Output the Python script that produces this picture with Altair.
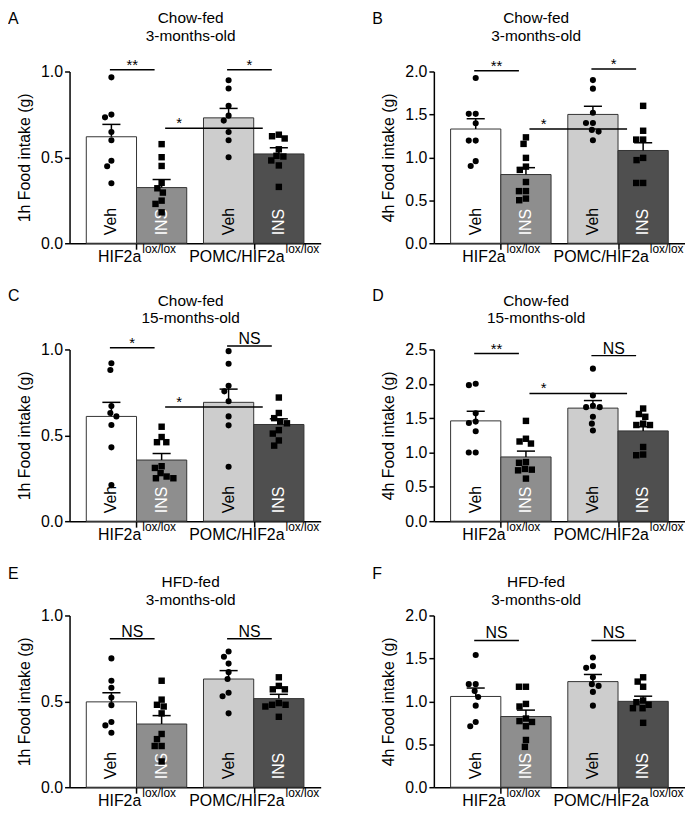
import altair as alt
import pandas as pd

FONT = "Liberation Sans, Arial, Helvetica, sans-serif"

# ------------------------------------------------------------------ data
TREATMENTS = ["Veh", "INS", "Veh", "INS"]
GENOTYPES = ["HIF2a", "POMC/HIF2a"]
GENOTYPE_SUP = "lox/lox"
PANEL_LETTERS = ["A", "B", "C", "D", "E", "F"]
DIETS = ["Chow-fed", "Chow-fed", "Chow-fed", "Chow-fed", "HFD-fed", "HFD-fed"]
AGES = ["3-months-old", "3-months-old", "15-months-old", "15-months-old",
        "3-months-old", "3-months-old"]
Y_TITLES = ["1h Food intake (g)", "4h Food intake (g)"] * 3
Y_MAX = [1.0, 2.0, 1.0, 2.5, 1.0, 2.0]

# bar order: HIF2a Veh, HIF2a INS, POMC/HIF2a Veh, POMC/HIF2a INS
A_means = [0.620, 0.324, 0.730, 0.520]
A_sem = [0.072, 0.047, 0.055, 0.036]
A_veh_wt = [0.966, 0.749, 0.733, 0.648, 0.600, 0.480, 0.448, 0.349]
A_ins_wt = [0.577, 0.501, 0.450, 0.352, 0.320, 0.295, 0.248, 0.229, 0.180]
A_veh_ko = [0.949, 0.901, 0.800, 0.743, 0.714, 0.648, 0.600, 0.501]
A_ins_ko = [0.632, 0.623, 0.610, 0.547, 0.509, 0.505, 0.482, 0.453, 0.328]
A_sig = [("**", 1.01), ("*", 1.01), ("*", 0.67)]

B_means = [1.330, 0.800, 1.500, 1.080]
B_sem = [0.120, 0.080, 0.095, 0.090]
B_veh_wt = [1.924, 1.507, 1.507, 1.397, 1.195, 1.195, 0.956, 0.900]
B_ins_wt = [1.233, 1.157, 0.994, 0.892, 0.854, 0.713, 0.607, 0.607, 0.520, 0.501]
B_veh_ko = [1.900, 1.800, 1.520, 1.400, 1.400, 1.320, 1.300, 1.200]
B_ins_ko = [1.600, 1.310, 1.207, 1.207, 0.994, 0.968, 0.702, 0.702]
B_sig = [("**", 2.01), ("*", 2.03), ("*", 1.33)]

C_means = [0.610, 0.356, 0.692, 0.563]
C_sem = [0.082, 0.038, 0.077, 0.033]
C_veh_wt = [0.920, 0.880, 0.670, 0.630, 0.610, 0.560, 0.430, 0.210]
C_ins_wt = [0.550, 0.490, 0.460, 0.460, 0.320, 0.310, 0.280, 0.260, 0.250, 0.250]
C_veh_ko = [0.990, 0.917, 0.788, 0.756, 0.698, 0.610, 0.558, 0.317]
C_ins_ko = [0.720, 0.630, 0.600, 0.580, 0.570, 0.530, 0.510, 0.470, 0.440]
C_sig = [("*", 1.01), ("NS", 1.02), ("*", 0.665)]

D_means = [1.460, 0.935, 1.646, 1.314]
D_sem = [0.140, 0.085, 0.110, 0.060]
D_veh_wt = [2.000, 1.980, 1.570, 1.450, 1.430, 1.310, 1.000, 1.000]
D_ins_wt = [1.460, 1.200, 1.160, 1.130, 0.860, 0.850, 0.760, 0.750, 0.740, 0.620]
D_veh_ko = [2.220, 1.830, 1.680, 1.660, 1.660, 1.520, 1.420, 1.320]
D_ins_ko = [1.640, 1.560, 1.520, 1.420, 1.400, 1.400, 1.080, 0.970, 0.960]
D_sig = [("**", 2.44), ("NS", 2.41), ("*", 1.86)]

E_means = [0.497, 0.368, 0.630, 0.516]
E_sem = [0.053, 0.049, 0.049, 0.025]
E_veh_wt = [0.750, 0.620, 0.579, 0.522, 0.478, 0.380, 0.360, 0.317]
E_ins_wt = [0.620, 0.510, 0.480, 0.470, 0.430, 0.310, 0.280, 0.240, 0.240, 0.150]
E_veh_ko = [0.790, 0.760, 0.720, 0.670, 0.630, 0.550, 0.530, 0.430]
E_ins_ko = [0.640, 0.590, 0.570, 0.570, 0.490, 0.480, 0.480, 0.470, 0.410]
E_sig = [("NS", 0.865), ("NS", 0.865)]

F_means = [1.057, 0.823, 1.230, 1.000]
F_sem = [0.098, 0.075, 0.083, 0.060]
F_veh_wt = [1.540, 1.200, 1.200, 1.120, 1.050, 0.950, 0.760, 0.710]
F_ins_wt = [1.170, 1.170, 0.970, 0.940, 0.800, 0.770, 0.760, 0.710, 0.550, 0.470]
F_veh_ko = [1.510, 1.410, 1.390, 1.280, 1.200, 1.180, 1.110, 0.950]
F_ins_ko = [1.280, 1.230, 1.170, 1.010, 0.990, 0.960, 0.920, 0.920, 0.750]
F_sig = [("NS", 1.71), ("NS", 1.71)]

PANELS = [
    (A_means, A_sem, [A_veh_wt, A_ins_wt, A_veh_ko, A_ins_ko], A_sig),
    (B_means, B_sem, [B_veh_wt, B_ins_wt, B_veh_ko, B_ins_ko], B_sig),
    (C_means, C_sem, [C_veh_wt, C_ins_wt, C_veh_ko, C_ins_ko], C_sig),
    (D_means, D_sem, [D_veh_wt, D_ins_wt, D_veh_ko, D_ins_ko], D_sig),
    (E_means, E_sem, [E_veh_wt, E_ins_wt, E_veh_ko, E_ins_ko], E_sig),
    (F_means, F_sem, [F_veh_wt, F_ins_wt, F_veh_ko, F_ins_ko], F_sig),
]

# ------------------------------------------------------------------ style / layout
BAR_FILL = ["#ffffff", "#8e8e8e", "#cdcdcd", "#4f4f4f"]
BAR_TEXT = ["black", "white", "black", "white"]
SHAPES = ["circle", "square", "circle", "square"]
SHAPE_SIZE = {"circle": 38, "square": 42}

W, H = 253, 173
XMAX = 5.0
PXU = W / XMAX
CENTERS = [1 / 3 + 0.5, 1 / 3 + 1.5, 2 / 3 + 2.5, 2 / 3 + 3.5]
GCENTERS = [(CENTERS[0] + CENTERS[1]) / 2, (CENTERS[2] + CENTERS[3]) / 2]

ROW_TEXT = [(-48, -49, -31), (-49, -44, -27), (-37, -29, -11)]
COL_TITLE_X = [122, 103]
LABEL_FS, SUP_FS = 16, 12

ARIAL_W = {"H": 722, "I": 278, "F": 611, "2": 556, "a": 556, "P": 667, "O": 778,
           "M": 833, "C": 722, "/": 278, "l": 222, "o": 556, "x": 500}


def text_w(s, fs):
    return sum(ARIAL_W.get(ch, 556) for ch in s) / 1000 * fs


def swarm(values, px_per_unit, d=7.0):
    placed, offs = [], []
    for v in values:
        y = v * px_per_unit
        forb = []
        for xo, yo in placed:
            dy = abs(y - yo)
            if dy < d:
                w = (d * d - dy * dy) ** 0.5
                forb.append((xo - w, xo + w))
        cands = [0.0] + [a for a, b in forb] + [b for a, b in forb]
        cands.sort(key=lambda c: (abs(c), c))
        x = 0.0
        for c in cands:
            if all(not (a + 1e-6 < c < b - 1e-6) for a, b in forb):
                x = c
                break
        placed.append((x, y))
        offs.append(x)
    return offs


def make_panel(k):
    means, sems, pts, sig = PANELS[k]
    ymax = Y_MAX[k]
    row, col = k // 2, k % 2
    ly, t1y, t2y = ROW_TEXT[row]

    xscale = alt.Scale(domain=[0, XMAX], nice=False, zero=False)
    yscale = alt.Scale(domain=[0, ymax], nice=False)
    xaxis = alt.Axis(values=GCENTERS, labels=False, ticks=True, tickSize=6,
                     tickWidth=1.5, tickColor="black", domainColor="black",
                     domainWidth=1.5, title=None, grid=False)
    nt = int(round(ymax / 0.5))
    yaxis = alt.Axis(values=[i * 0.5 for i in range(nt + 1)], format=".1f",
                     tickSize=5, tickWidth=1.5, tickColor="black",
                     domainColor="black", domainWidth=1.5, labelFontSize=16,
                     labelColor="black", labelPadding=2, labelFlush=False,
                     title=Y_TITLES[k], titleFontSize=16, titleFontWeight="normal",
                     titleColor="black", titlePadding=8, grid=False)

    def X(f):
        return alt.X(f, type="quantitative", scale=xscale, axis=xaxis)

    def Y(f):
        return alt.Y(f, type="quantitative", scale=yscale, axis=yaxis)

    bars = pd.DataFrame({
        "xc": CENTERS,
        "x0": [c - 0.5 for c in CENTERS],
        "x1": [c + 0.5 for c in CENTERS],
        "cl": [c - 0.18 for c in CENTERS],
        "cr": [c + 0.18 for c in CENTERS],
        "mean": means,
        "hi": [m + s for m, s in zip(means, sems)],
        "zero": [0.0] * 4,
        "fill": BAR_FILL,
        "label": TREATMENTS,
        "tcol": BAR_TEXT,
    })

    prow = []
    for i, vals in enumerate(pts):
        sv = sorted(vals, reverse=True)
        offs = swarm(sv, H / ymax)
        for v, o in zip(sv, offs):
            prow.append({"px": CENTERS[i] + o / PXU, "val": v, "shape": SHAPES[i],
                         "sz": SHAPE_SIZE[SHAPES[i]]})
    points = pd.DataFrame(prow)

    arow = []
    for j, (lab, lev) in enumerate(sig):
        if j < 2:
            a, b = CENTERS[2 * j] - 0.03, CENTERS[2 * j + 1] - 0.14
            tx = (a + b) / 2
        else:
            a, b = CENTERS[1] + 0.07, CENTERS[2] + 0.68
            tx = CENTERS[1] + 0.35
        arow.append({"x1": a, "x2": b, "y": lev, "tx": tx, "lab": lab})
    ann = pd.DataFrame(arow)

    lrow = []
    for g, gc in zip(GENOTYPES, GCENTERS):
        w1, w2 = text_w(g, LABEL_FS), text_w(GENOTYPE_SUP, SUP_FS)
        lrow.append({"bx": gc + (w1 - w2) / 2 / PXU, "main": g, "sup": GENOTYPE_SUP})
    glab = pd.DataFrame(lrow)

    one = pd.DataFrame({"a": [0]})

    layers = [
        alt.Chart(bars).mark_rect(stroke="#333333", strokeWidth=1).encode(
            x=X("x0"), x2="x1", y=Y("mean"), y2="zero",
            fill=alt.Fill("fill:N", scale=None)),
        alt.Chart(bars).mark_text(angle=270, align="left", baseline="middle",
                                  dx=8, fontSize=16).encode(
            x=X("xc"), y=Y("zero"), text="label:N",
            color=alt.Color("tcol:N", scale=None)),
        alt.Chart(bars).mark_rule(color="black", strokeWidth=1.5).encode(
            x=X("xc"), y=Y("mean"), y2="hi"),
        alt.Chart(bars).mark_rule(color="black", strokeWidth=1.5).encode(
            x=X("cl"), x2="cr", y=Y("hi")),
        alt.Chart(points).mark_point(filled=True, opacity=1, color="black").encode(
            x=X("px"), y=Y("val"), shape=alt.Shape("shape:N", scale=None),
            size=alt.Size("sz:Q", scale=None)),
        alt.Chart(ann).mark_rule(color="black", strokeWidth=1.5).encode(
            x=X("x1"), x2="x2", y=Y("y")),
        alt.Chart(ann).transform_filter(alt.datum.lab != "NS").mark_text(
            baseline="alphabetic", fontSize=15, dy=0, color="black").encode(
            x=X("tx"), y=Y("y"), text="lab:N"),
        alt.Chart(ann).transform_filter(alt.datum.lab == "NS").mark_text(
            baseline="alphabetic", fontSize=16, dy=-2, color="black").encode(
            x=X("tx"), y=Y("y"), text="lab:N"),
        alt.Chart(glab).mark_text(align="right", baseline="alphabetic",
                                  fontSize=LABEL_FS, color="black").encode(
            x=X("bx"), y=alt.value(H + 19), text="main:N"),
        alt.Chart(glab).mark_text(align="left", baseline="alphabetic", dx=1,
                                  fontSize=SUP_FS, color="black").encode(
            x=X("bx"), y=alt.value(H + 10), text="sup:N"),
        alt.Chart(one).mark_text(align="left", baseline="alphabetic", fontSize=16,
                                 color="black", text=PANEL_LETTERS[k]).encode(
            x=alt.value(-62), y=alt.value(ly)),
        alt.Chart(one).mark_text(align="center", baseline="alphabetic",
                                 fontSize=15.5, color="black", text=DIETS[k]).encode(
            x=alt.value(COL_TITLE_X[col]), y=alt.value(t1y)),
        alt.Chart(one).mark_text(align="center", baseline="alphabetic",
                                 fontSize=15.5, color="black", text=AGES[k]).encode(
            x=alt.value(COL_TITLE_X[col]), y=alt.value(t2y)),
    ]
    return alt.layer(*layers).properties(width=W, height=H)


rows = [alt.hconcat(make_panel(2 * r), make_panel(2 * r + 1), spacing=52)
        for r in range(3)]
chart = alt.vconcat(*rows, spacing=23).properties(padding=0).configure_view(
    stroke=None).configure_text(font=FONT).configure_axis(
    labelFont=FONT, titleFont=FONT)

chart.save("out.html", embed_options={"renderer": "svg", "actions": False})
